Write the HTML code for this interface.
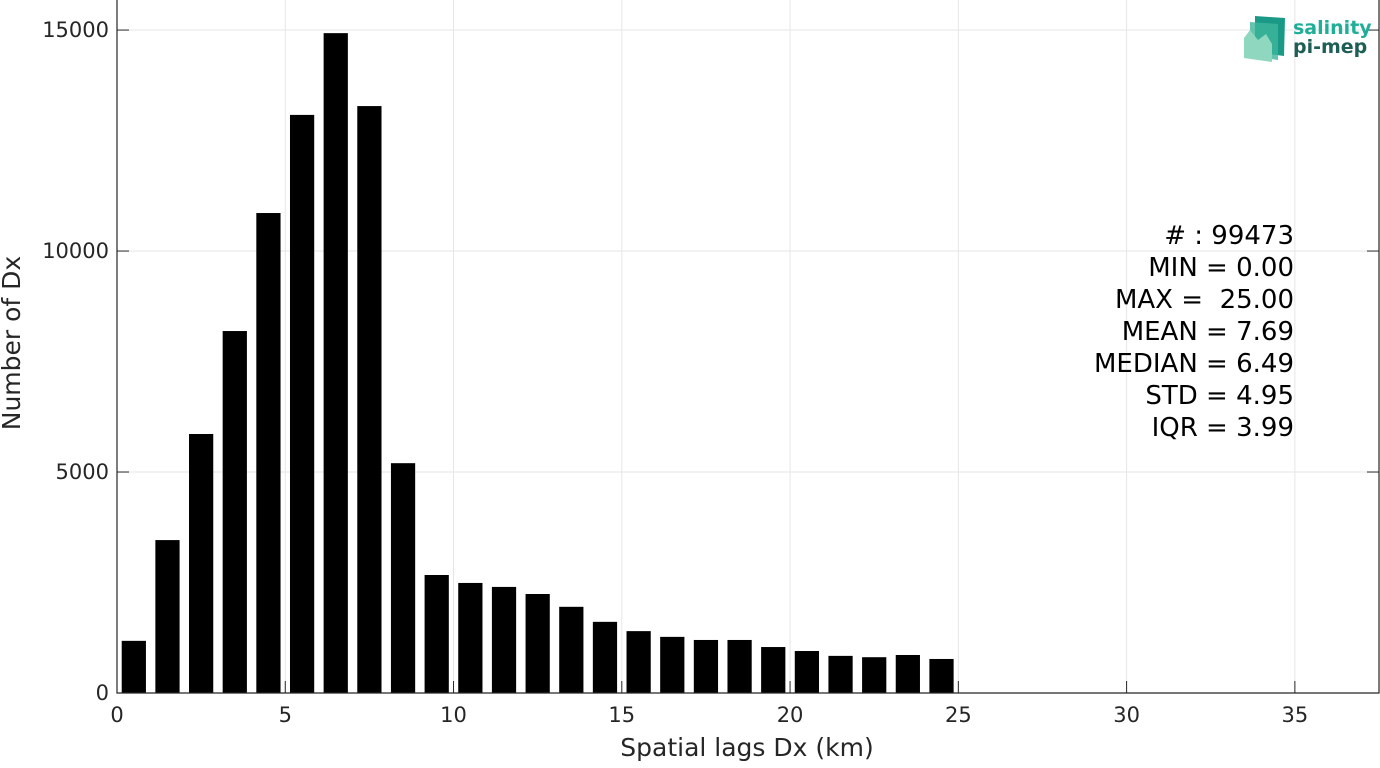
<!DOCTYPE html>
<html><head><meta charset="utf-8"><style>
body{margin:0;background:#fff;width:1380px;height:763px;overflow:hidden;font-family:"Liberation Sans","DejaVu Sans",sans-serif}
svg text{font-family:"DejaVu Sans","Liberation Sans",sans-serif}
</style></head><body>
<svg id="chart" width="1380" height="763" xmlns="http://www.w3.org/2000/svg">
<g id="grid"></g>
<g id="bars"></g>
<g id="axes"></g>
<text x="747" y="756" text-anchor="middle" font-size="25" fill="#262626">Spatial lags Dx (km)</text>
<text transform="translate(20,343) rotate(-90)" text-anchor="middle" font-size="25" fill="#262626">Number of Dx</text>
<g font-size="26" fill="#000" text-anchor="end">
<text x="1294" y="244">#  : 99473</text>
<text x="1294" y="276">MIN = 0.00</text>
<text x="1294" y="308" xml:space="preserve">MAX =  25.00</text>
<text x="1294" y="340">MEAN = 7.69</text>
<text x="1294" y="372">MEDIAN = 6.49</text>
<text x="1294" y="404">STD = 4.95</text>
<text x="1294" y="436">IQR = 3.99</text>
</g>
<g>
<polygon points="1255,16 1285,18 1284,56 1255,52" fill="#1a9a86"/>
<polygon points="1250,22 1278,24 1278,60 1250,56" fill="#3db59b" opacity="0.8"/>
<polygon points="1244,38 1250,30 1258,40 1266,34 1272,44 1272,62 1244,58" fill="#8fd8bf"/>
<text x="1293" y="34" font-size="19" font-weight="bold" fill="#1fae98">salinity</text>
<text x="1293" y="53" font-size="19" font-weight="bold" fill="#1d5e56">pi-mep</text>
</g>
</svg>
<script>
const binCenters=[0.5,1.5,2.5,3.5,4.5,5.5,6.5,7.5,8.5,9.5,10.5,11.5,12.5,13.5,14.5,15.5,16.5,17.5,18.5,19.5,20.5,21.5,22.5,23.5,24.5];
const counts=[1180,3460,5860,8190,10860,13080,14930,13280,5200,2670,2490,2400,2240,1950,1610,1400,1270,1200,1200,1040,950,840,810,860,770];
const xTicks=[0,5,10,15,20,25,30,35];
const yTicks=[0,5000,10000,15000];
const NS='http://www.w3.org/2000/svg';
const L=117,R=1379,T=0,B=693,xMax=37.5,yMax=15680;
const xs=v=>L+v/xMax*(R-L);
const ys=v=>B-v/yMax*(B-T);
function mk(tag,attrs,parent){const e=document.createElementNS(NS,tag);for(const k in attrs)e.setAttribute(k,attrs[k]);parent.appendChild(e);return e;}
const grid=document.getElementById('grid'),bars=document.getElementById('bars'),axes=document.getElementById('axes');
xTicks.forEach(t=>{
 const g=mk('line',{x1:xs(t),x2:xs(t),y1:T,y2:B,stroke:'#e6e6e6','stroke-width':1},grid);
 
 
 const tk=mk('line',{x1:xs(t),x2:xs(t),y1:B,y2:B-12,stroke:'#262626','stroke-width':1},axes);
 
 
 const tx=mk('text',{x:xs(t),y:B+29,'text-anchor':'middle','font-size':21,fill:'#262626'},axes);
 tx.textContent=t;
 
 
});
yTicks.forEach(t=>{
 const g=mk('line',{x1:L,x2:R,y1:ys(t),y2:ys(t),stroke:'#e6e6e6','stroke-width':1},grid);
 
 
 mk('line',{x1:L,x2:L+12,y1:ys(t),y2:ys(t),stroke:'#262626'},axes);
 mk('line',{x1:R-12,x2:R,y1:ys(t),y2:ys(t),stroke:'#262626'},axes);
 const tx=mk('text',{x:L-8,y:ys(t)+7,'text-anchor':'end','font-size':21,fill:'#262626'},axes);
 tx.textContent=t;
 
 
});
const bw=0.72;
binCenters.forEach((c,i)=>{
 const r=mk('rect',{x:xs(c-bw/2),width:xs(c+bw/2)-xs(c-bw/2),y:ys(counts[i]),height:B-ys(counts[i]),fill:'#000'},bars);
 
 
});
const bx=mk('path',{d:`M${L},${T}V${B}H${R}V${T}`,fill:'none',stroke:'#262626','stroke-width':1.2},axes);


</script>
</body></html>
